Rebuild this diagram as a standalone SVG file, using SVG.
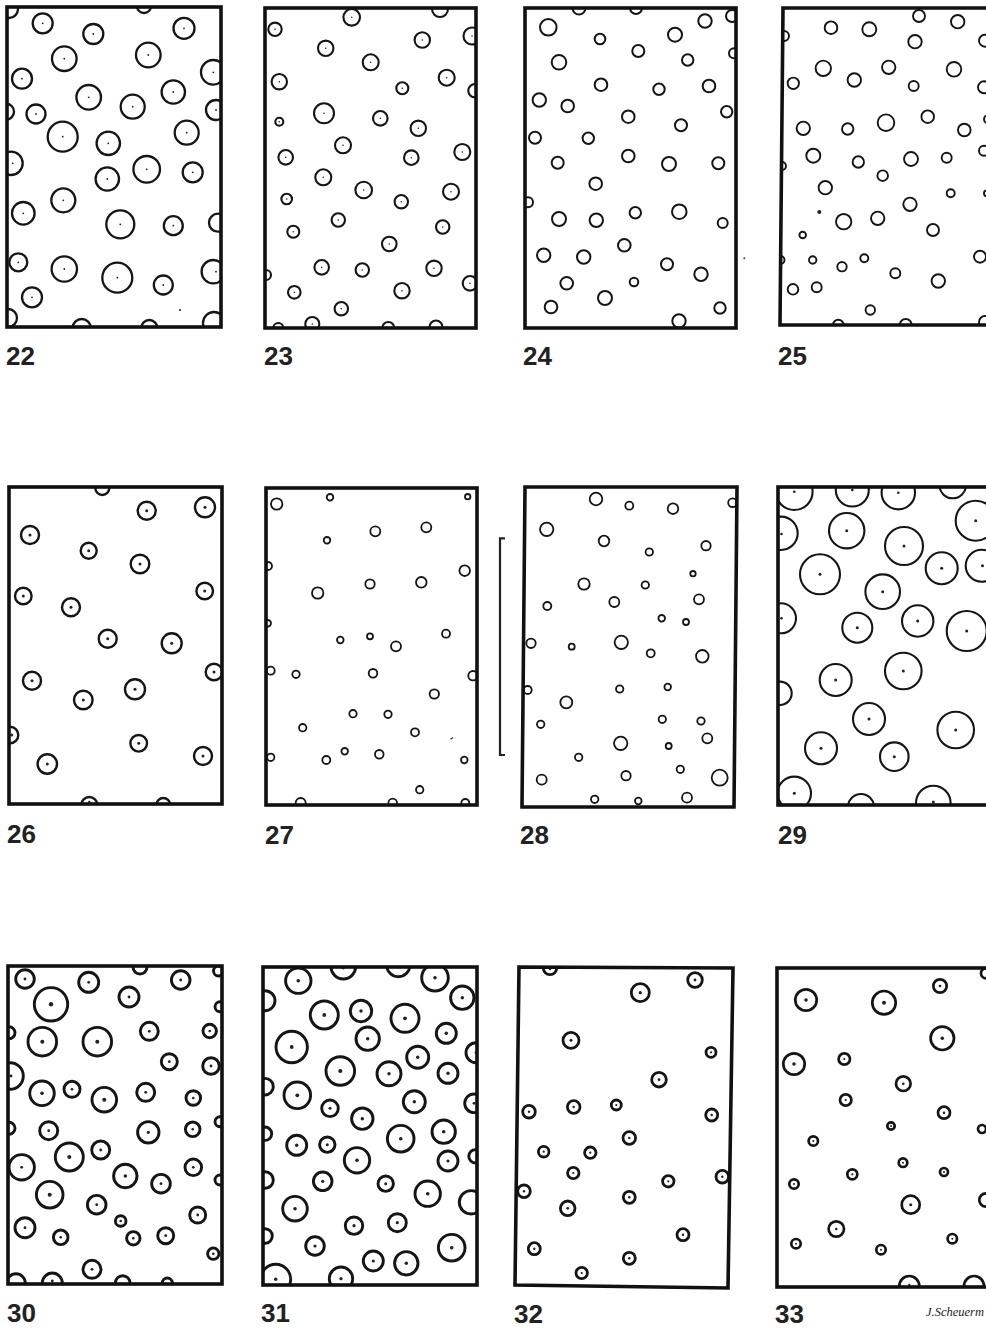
<svg xmlns="http://www.w3.org/2000/svg" width="986" height="1329" viewBox="0 0 986 1329">
<style>
.f{fill:none;stroke:#111;stroke-width:3.6}
.c circle{fill:none;stroke:#151515}
.d circle{fill:#222;stroke:none}
.lbl{font-family:"Liberation Sans",Arial,sans-serif;font-weight:bold;font-size:26px;fill:#222}
.sig{font-family:"Liberation Serif","Times New Roman",serif;font-style:italic;font-size:12.5px;fill:#222}
</style>
<defs>
<clipPath id="k22"><rect x="7" y="7" width="214" height="320"/></clipPath>
<clipPath id="k23"><rect x="265" y="8" width="211" height="320"/></clipPath>
<clipPath id="k24"><rect x="525" y="8" width="211" height="320"/></clipPath>
<clipPath id="k25"><polygon points="783,8 1000,8 1000,325 780,325"/></clipPath>
<clipPath id="k26"><rect x="9" y="487" width="213" height="317"/></clipPath>
<clipPath id="k27"><rect x="266" y="488" width="211" height="317"/></clipPath>
<clipPath id="k28"><polygon points="525,487 737,487 734,807 522,807"/></clipPath>
<clipPath id="k29"><rect x="778" y="487" width="222" height="318"/></clipPath>
<clipPath id="k30"><rect x="8" y="966" width="214" height="318"/></clipPath>
<clipPath id="k31"><rect x="263" y="967" width="214" height="318"/></clipPath>
<clipPath id="k32"><polygon points="519,967 733,968 728,1288 515,1285"/></clipPath>
<clipPath id="k33"><rect x="777" y="968" width="222" height="319"/></clipPath>
</defs>
<rect width="986" height="1329" fill="#fff"/>

<g id="panel-22">
<g clip-path="url(#k22)">
<g class="c" stroke-width="2.3">
<circle cx="9" cy="9" r="9"/><circle cx="42.7" cy="23.3" r="10"/><circle cx="93.3" cy="34" r="10"/><circle cx="144" cy="6" r="7"/><circle cx="184" cy="28.3" r="10.5"/>
<circle cx="64.3" cy="58.7" r="12.3"/><circle cx="148.3" cy="55" r="12.3"/><circle cx="213.3" cy="72.3" r="12.3"/><circle cx="22" cy="78.7" r="10"/><circle cx="88.7" cy="97.3" r="12.3"/>
<circle cx="173.3" cy="92" r="11.7"/><circle cx="132.7" cy="106.7" r="12"/><circle cx="6" cy="111.7" r="8"/><circle cx="36" cy="114" r="9.5"/><circle cx="216" cy="110" r="10"/>
<circle cx="62.7" cy="136.7" r="15"/><circle cx="108.3" cy="143.3" r="11.7"/><circle cx="186.7" cy="132.7" r="12"/><circle cx="11" cy="163.3" r="11.7"/><circle cx="146.7" cy="169.3" r="13.3"/>
<circle cx="107.3" cy="179" r="11.7"/><circle cx="192.7" cy="172.3" r="10"/><circle cx="63.3" cy="200.3" r="12"/><circle cx="23.3" cy="213.3" r="11.3"/><circle cx="120.3" cy="224.3" r="14"/>
<circle cx="173.3" cy="225.7" r="9.5"/><circle cx="218" cy="222.7" r="9"/><circle cx="18.3" cy="262.3" r="9"/><circle cx="64.3" cy="269" r="12.7"/><circle cx="117.3" cy="277.7" r="15"/>
<circle cx="213.3" cy="271.7" r="11.7"/><circle cx="32" cy="297.3" r="10"/><circle cx="163.3" cy="285" r="9.5"/><circle cx="8" cy="318" r="9"/><circle cx="81.7" cy="328" r="9"/>
<circle cx="149.3" cy="328" r="8"/><circle cx="214" cy="323" r="11"/>
</g>
<g class="d">
<circle cx="42.7" cy="23.3" r="0.9"/><circle cx="93.3" cy="34" r="0.9"/><circle cx="184" cy="28.3" r="0.9"/><circle cx="64.3" cy="58.7" r="0.9"/><circle cx="148.3" cy="55" r="0.9"/>
<circle cx="213.3" cy="72.3" r="0.9"/><circle cx="22" cy="78.7" r="0.9"/><circle cx="88.7" cy="97.3" r="0.9"/><circle cx="173.3" cy="92" r="0.9"/><circle cx="132.7" cy="106.7" r="0.9"/>
<circle cx="36" cy="114" r="0.9"/><circle cx="216" cy="110" r="0.9"/><circle cx="62.7" cy="136.7" r="0.9"/><circle cx="108.3" cy="143.3" r="0.9"/><circle cx="186.7" cy="132.7" r="0.9"/>
<circle cx="12.7" cy="163.3" r="0.9"/><circle cx="146.7" cy="169.3" r="0.9"/><circle cx="107.3" cy="179" r="0.9"/><circle cx="192.7" cy="172.3" r="0.9"/><circle cx="63.3" cy="200.3" r="0.9"/>
<circle cx="23.3" cy="213.3" r="0.9"/><circle cx="120.3" cy="224.3" r="0.9"/><circle cx="173.3" cy="225.7" r="0.9"/><circle cx="18.3" cy="262.3" r="0.9"/><circle cx="64.3" cy="269" r="0.9"/>
<circle cx="117.3" cy="277.7" r="0.9"/><circle cx="216" cy="271.7" r="0.9"/><circle cx="32" cy="297.3" r="0.9"/><circle cx="163.3" cy="285" r="0.9"/>
<circle cx="180" cy="310" r="1.1"/>
</g>
</g>
<rect class="f" x="7" y="7" width="214" height="320"/>
<text class="lbl" x="6" y="365">22</text>
</g>

<g id="panel-23">
<g clip-path="url(#k23)">
<g class="c" stroke-width="2.1">
<circle cx="275" cy="29.3" r="6.7"/><circle cx="351.7" cy="17.3" r="8.3"/><circle cx="440" cy="9" r="8"/><circle cx="472" cy="36" r="8.5"/><circle cx="325.7" cy="48.3" r="7.7"/>
<circle cx="422.3" cy="40" r="7.7"/><circle cx="370.7" cy="62.3" r="8"/><circle cx="279.3" cy="81.7" r="7.7"/><circle cx="446.7" cy="77.7" r="8"/><circle cx="402.3" cy="88.3" r="6"/>
<circle cx="475" cy="90.7" r="6.7"/><circle cx="279.3" cy="121.7" r="4"/><circle cx="324" cy="113.3" r="10"/><circle cx="380.3" cy="118.3" r="7.3"/><circle cx="418.3" cy="128.3" r="7.7"/>
<circle cx="343" cy="145.3" r="8"/><circle cx="285.7" cy="157.3" r="7.3"/><circle cx="411.3" cy="157.7" r="7.3"/><circle cx="462.3" cy="152" r="8"/><circle cx="323.3" cy="177.3" r="8"/>
<circle cx="363.7" cy="190" r="8.3"/><circle cx="286.7" cy="199" r="5.3"/><circle cx="401.3" cy="201.7" r="6.7"/><circle cx="451" cy="191.7" r="8"/><circle cx="338.3" cy="220" r="6.7"/>
<circle cx="293.3" cy="231.7" r="6"/><circle cx="442.7" cy="227" r="6.7"/><circle cx="389.3" cy="244" r="7.3"/><circle cx="321.7" cy="267.3" r="7.3"/><circle cx="362.3" cy="270" r="6.7"/>
<circle cx="434" cy="268.3" r="7.7"/><circle cx="266" cy="275" r="5"/><circle cx="470" cy="283.3" r="7.3"/><circle cx="294.3" cy="292.3" r="6.3"/><circle cx="402" cy="290.7" r="7.7"/>
<circle cx="341.3" cy="308.7" r="6.7"/><circle cx="278.3" cy="328" r="5"/><circle cx="312.3" cy="324" r="7"/><circle cx="388.3" cy="328" r="6"/><circle cx="436" cy="327" r="6.5"/>
</g>
<g class="d">
<circle cx="275" cy="29.3" r="0.8"/><circle cx="351.7" cy="17.3" r="0.8"/><circle cx="472" cy="36" r="0.8"/><circle cx="325.7" cy="48.3" r="0.8"/><circle cx="422.3" cy="40" r="0.8"/>
<circle cx="370.7" cy="62.3" r="0.8"/><circle cx="279.3" cy="81.7" r="0.8"/><circle cx="446.7" cy="77.7" r="0.8"/><circle cx="402.3" cy="88.3" r="0.8"/><circle cx="279.3" cy="121.7" r="0.8"/>
<circle cx="324" cy="113.3" r="0.8"/><circle cx="380.3" cy="118.3" r="0.8"/><circle cx="418.3" cy="128.3" r="0.8"/><circle cx="343" cy="145.3" r="0.8"/><circle cx="285.7" cy="157.3" r="0.8"/>
<circle cx="411.3" cy="157.7" r="0.8"/><circle cx="462.3" cy="152" r="0.8"/><circle cx="323.3" cy="177.3" r="0.8"/><circle cx="363.7" cy="190" r="0.8"/><circle cx="286.7" cy="199" r="0.8"/>
<circle cx="401.3" cy="201.7" r="0.8"/><circle cx="451" cy="191.7" r="0.8"/><circle cx="338.3" cy="220" r="0.8"/><circle cx="293.3" cy="231.7" r="0.8"/><circle cx="442.7" cy="227" r="0.8"/>
<circle cx="389.3" cy="244" r="0.8"/><circle cx="321.7" cy="267.3" r="0.8"/><circle cx="362.3" cy="270" r="0.8"/><circle cx="434" cy="268.3" r="0.8"/><circle cx="470" cy="283.3" r="0.8"/>
<circle cx="294.3" cy="292.3" r="0.8"/><circle cx="402" cy="290.7" r="0.8"/><circle cx="341.3" cy="308.7" r="0.8"/><circle cx="312.3" cy="324" r="0.8"/>
</g>
</g>
<rect class="f" x="265" y="8" width="211" height="320"/>
<text class="lbl" x="264" y="365">23</text>
</g>

<g id="panel-24">
<g clip-path="url(#k24)">
<g class="c" stroke-width="2">
<circle cx="579" cy="8" r="6.5"/><circle cx="636" cy="8" r="6"/><circle cx="548.3" cy="27.3" r="8.3"/><circle cx="600" cy="39" r="5.3"/><circle cx="675" cy="34.7" r="7"/>
<circle cx="705" cy="21" r="6.7"/><circle cx="732" cy="16" r="6"/><circle cx="638.3" cy="51" r="6"/><circle cx="559" cy="62.3" r="7.3"/><circle cx="687.7" cy="60" r="5.7"/>
<circle cx="734" cy="53.3" r="5"/><circle cx="601" cy="84.7" r="6.3"/><circle cx="659" cy="89.3" r="5.7"/><circle cx="709" cy="86" r="6.3"/><circle cx="539.3" cy="100" r="6.7"/>
<circle cx="567.7" cy="106" r="6.3"/><circle cx="628.3" cy="116.7" r="6.3"/><circle cx="681" cy="125.3" r="6"/><circle cx="726.7" cy="111.7" r="5.7"/><circle cx="535" cy="137.7" r="6"/>
<circle cx="588.3" cy="138.3" r="5.7"/><circle cx="628.3" cy="156" r="6.3"/><circle cx="557.7" cy="162.7" r="6"/><circle cx="669" cy="164" r="7"/><circle cx="718.3" cy="163.3" r="6"/>
<circle cx="595.7" cy="183.7" r="6.3"/><circle cx="528" cy="202.3" r="5"/><circle cx="559" cy="219" r="7"/><circle cx="596.3" cy="220.3" r="6.7"/><circle cx="635.3" cy="212.7" r="5.7"/>
<circle cx="679.3" cy="211.7" r="7.3"/><circle cx="722.7" cy="223" r="5"/><circle cx="624.3" cy="245.3" r="6.3"/><circle cx="543.7" cy="255.3" r="6.7"/><circle cx="583.7" cy="257" r="6.7"/>
<circle cx="667" cy="264.3" r="6"/><circle cx="701" cy="274.3" r="6.7"/><circle cx="566.7" cy="283.3" r="6.3"/><circle cx="634" cy="282" r="4.3"/><circle cx="605" cy="298" r="7"/>
<circle cx="551" cy="307" r="6.3"/><circle cx="720" cy="308" r="5.7"/><circle cx="679" cy="321" r="6.7"/>
</g>
</g>
<rect class="f" x="525" y="8" width="211" height="320"/>
<circle cx="744.3" cy="258.3" r="1" fill="#444"/>
<text class="lbl" x="523" y="365">24</text>
</g>

<g id="panel-25">
<g clip-path="url(#k25)">
<g class="c" stroke-width="1.9">
<circle cx="919" cy="16" r="6"/><circle cx="957.7" cy="21.7" r="6.7"/><circle cx="784" cy="36" r="5"/><circle cx="831" cy="27.7" r="6.3"/><circle cx="869.3" cy="29.3" r="7"/>
<circle cx="915" cy="41.7" r="6.7"/><circle cx="985" cy="40.7" r="6"/><circle cx="823.3" cy="68.3" r="7.7"/><circle cx="793.3" cy="83.3" r="5.7"/><circle cx="854.3" cy="80" r="6.7"/>
<circle cx="888.7" cy="67.3" r="6.7"/><circle cx="913.7" cy="86" r="5"/><circle cx="954" cy="69.3" r="7.3"/><circle cx="984" cy="87.3" r="6"/><circle cx="803.3" cy="128.3" r="6.7"/>
<circle cx="847.7" cy="129" r="5.7"/><circle cx="886" cy="122.7" r="8.3"/><circle cx="927.7" cy="116.7" r="6.3"/><circle cx="964.3" cy="130" r="6.3"/><circle cx="988" cy="119.3" r="4"/>
<circle cx="782" cy="166" r="4"/><circle cx="813.3" cy="155.7" r="7"/><circle cx="858.3" cy="162" r="5.7"/><circle cx="911" cy="159" r="7"/><circle cx="946.7" cy="157.7" r="5"/>
<circle cx="984" cy="150.7" r="5"/><circle cx="882.7" cy="175.7" r="5.3"/><circle cx="825.3" cy="187.7" r="6.7"/><circle cx="950.7" cy="193.3" r="4"/><circle cx="987" cy="193.3" r="3"/>
<circle cx="843.7" cy="221.7" r="7.7"/><circle cx="877.7" cy="218.3" r="6.7"/><circle cx="910" cy="204.3" r="6.7"/><circle cx="933" cy="230" r="6"/><circle cx="802.7" cy="235" r="3.3"/>
<circle cx="780.5" cy="260" r="4"/><circle cx="812.7" cy="260" r="3.7"/><circle cx="842" cy="266.7" r="4.7"/><circle cx="864.3" cy="258.3" r="4"/><circle cx="895.3" cy="273.3" r="5"/>
<circle cx="938.3" cy="281" r="6.7"/><circle cx="980" cy="256.7" r="6"/><circle cx="793" cy="289.3" r="5.3"/><circle cx="816.7" cy="287.3" r="5"/><circle cx="870.3" cy="310" r="4.7"/>
<circle cx="838.3" cy="325" r="5.3"/><circle cx="905.7" cy="325" r="6"/><circle cx="985" cy="322" r="6"/>
</g>
<circle cx="819.3" cy="212" r="2" fill="#222"/>
</g>
<polygon class="f" points="783,8 1000,8 1000,325 780,325" />
<text class="lbl" x="778" y="365">25</text>
</g>

<g id="panel-26">
<g clip-path="url(#k26)">
<g class="c" stroke-width="2.4">
<circle cx="102.3" cy="488" r="7"/><circle cx="146.7" cy="510.7" r="9"/><circle cx="205" cy="507.3" r="10"/><circle cx="30" cy="535" r="9"/><circle cx="88.7" cy="550.7" r="8"/>
<circle cx="140" cy="564" r="9.3"/><circle cx="23.3" cy="596" r="8.3"/><circle cx="204.7" cy="591" r="8.3"/><circle cx="71" cy="607.3" r="9"/><circle cx="107.7" cy="638.7" r="9"/>
<circle cx="171.7" cy="643.3" r="10"/><circle cx="214" cy="672" r="8.3"/><circle cx="32" cy="680.7" r="9"/><circle cx="83.3" cy="700" r="9.3"/><circle cx="135" cy="689.3" r="10"/>
<circle cx="10" cy="735" r="8.3"/><circle cx="138.7" cy="743.3" r="8.3"/><circle cx="203" cy="756" r="9"/><circle cx="47.3" cy="764" r="9.7"/><circle cx="89.3" cy="805" r="8"/>
<circle cx="163.3" cy="805" r="7"/>
</g>
<g class="d">
<circle cx="146.7" cy="510.7" r="1.5"/><circle cx="205" cy="507.3" r="1.5"/><circle cx="30" cy="535" r="1.5"/><circle cx="88.7" cy="550.7" r="1.5"/>
<circle cx="140" cy="564" r="1.5"/><circle cx="23.3" cy="596" r="1.5"/><circle cx="204.7" cy="591" r="1.5"/><circle cx="71" cy="607.3" r="1.5"/><circle cx="107.7" cy="638.7" r="1.5"/>
<circle cx="171.7" cy="643.3" r="1.5"/><circle cx="214" cy="672" r="1.5"/><circle cx="32" cy="680.7" r="1.5"/><circle cx="83.3" cy="700" r="1.5"/><circle cx="135" cy="689.3" r="1.5"/>
<circle cx="11.7" cy="735" r="1.5"/><circle cx="138.7" cy="743.3" r="1.5"/><circle cx="203" cy="756" r="1.5"/><circle cx="47.3" cy="764" r="1.5"/><circle cx="89.3" cy="802" r="1.3"/>
</g>
</g>
<rect class="f" x="9" y="487" width="213" height="317"/>
<text class="lbl" x="7" y="843">26</text>
</g>

<g id="panel-27">
<g clip-path="url(#k27)">
<g class="c" stroke-width="1.8">
<circle cx="276.7" cy="504" r="5.7"/><circle cx="330" cy="497.3" r="3.3"/><circle cx="467.7" cy="496.7" r="2.7"/><circle cx="375.3" cy="531.3" r="5"/><circle cx="426.3" cy="527.3" r="5"/>
<circle cx="327" cy="540.3" r="3.3"/><circle cx="268" cy="566" r="4"/><circle cx="464.7" cy="570.7" r="5.3"/><circle cx="317.7" cy="593" r="5.7"/><circle cx="370" cy="584" r="4.7"/>
<circle cx="421.3" cy="582.3" r="5.3"/><circle cx="267.7" cy="623.3" r="3.3"/><circle cx="340.3" cy="640" r="3.3"/><circle cx="370" cy="636.3" r="3"/><circle cx="396" cy="646.3" r="5"/>
<circle cx="446" cy="633.7" r="4"/><circle cx="270.7" cy="670.7" r="4"/><circle cx="296" cy="674.3" r="3.7"/><circle cx="373" cy="673.3" r="4.3"/><circle cx="473" cy="675.7" r="4.7"/>
<circle cx="434.3" cy="694" r="4.7"/><circle cx="353" cy="713.7" r="3.7"/><circle cx="388" cy="714.3" r="3.7"/><circle cx="302.7" cy="727.7" r="3.7"/><circle cx="415" cy="732.3" r="4"/>
<circle cx="270.7" cy="757.3" r="3.7"/><circle cx="326.3" cy="760" r="4"/><circle cx="344.7" cy="751.3" r="3.3"/><circle cx="379.3" cy="754.3" r="4.3"/><circle cx="464.3" cy="760" r="3.3"/>
<circle cx="419.7" cy="789.7" r="3.7"/><circle cx="300.7" cy="803" r="5"/><circle cx="392.7" cy="803" r="4.3"/><circle cx="465.3" cy="803" r="4"/>
</g>
<line x1="450.5" y1="739.3" x2="453" y2="737.5" stroke="#333" stroke-width="1.3"/>
</g>
<rect class="f" x="266" y="488" width="211" height="317"/>
<text class="lbl" x="265" y="844">27</text>
</g>

<g id="panel-28">
<polyline points="505,538.3 500,538.3 500,755 505,755" fill="none" stroke="#222" stroke-width="2.2"/>
<g clip-path="url(#k28)">
<g class="c" stroke-width="1.8">
<circle cx="596" cy="499" r="6.3"/><circle cx="629.3" cy="505.7" r="4"/><circle cx="673" cy="508.7" r="5.3"/><circle cx="732.5" cy="502.7" r="4.3"/><circle cx="546.7" cy="529.3" r="6.7"/>
<circle cx="604" cy="541" r="5.3"/><circle cx="649.3" cy="552" r="3.7"/><circle cx="706" cy="545.7" r="4.7"/><circle cx="693" cy="573.7" r="2.7"/><circle cx="584" cy="584" r="5.7"/>
<circle cx="645.3" cy="585" r="3.7"/><circle cx="547.3" cy="606" r="4"/><circle cx="614.3" cy="602" r="5"/><circle cx="699" cy="599.3" r="5"/><circle cx="661.7" cy="618.3" r="3.3"/>
<circle cx="686" cy="622" r="3"/><circle cx="531" cy="643.3" r="4.7"/><circle cx="571.7" cy="646.7" r="3"/><circle cx="621.3" cy="642.3" r="6.7"/><circle cx="650.7" cy="653.3" r="4"/>
<circle cx="702.3" cy="656.3" r="6.3"/><circle cx="527.7" cy="690" r="4"/><circle cx="619.7" cy="689" r="3.7"/><circle cx="667.7" cy="687" r="3.3"/><circle cx="566.3" cy="702.3" r="6"/>
<circle cx="540.7" cy="724.3" r="3.7"/><circle cx="662.3" cy="719.3" r="3.7"/><circle cx="701" cy="721" r="3.7"/><circle cx="620.7" cy="743.3" r="6.7"/><circle cx="668.7" cy="746" r="3"/>
<circle cx="707.3" cy="738.3" r="5"/><circle cx="578.7" cy="757.3" r="3.7"/><circle cx="541.7" cy="779.7" r="5"/><circle cx="626" cy="775.7" r="4.7"/><circle cx="680.3" cy="769.3" r="3.7"/>
<circle cx="719.7" cy="777.7" r="8"/><circle cx="594.7" cy="799.3" r="3.7"/><circle cx="638.3" cy="801" r="3.3"/><circle cx="687" cy="797.7" r="5"/>
</g>
</g>
<polygon class="f" points="525,487 737,487 734,807 522,807"/>
<text class="lbl" x="520" y="844">28</text>
</g>

<g id="panel-29">
<g clip-path="url(#k29)">
<g class="c" stroke-width="2.1">
<circle cx="794.3" cy="491.7" r="18.3"/><circle cx="852.3" cy="490" r="16.5"/><circle cx="898.3" cy="492.7" r="16.7"/><circle cx="952.7" cy="485" r="13.3"/><circle cx="781" cy="533.3" r="16.7"/>
<circle cx="846.7" cy="530.7" r="17.7"/><circle cx="904" cy="546" r="19"/><circle cx="975.7" cy="520.7" r="20"/><circle cx="820" cy="574.3" r="20"/><circle cx="941.7" cy="568.3" r="16"/>
<circle cx="981.7" cy="565.7" r="16"/><circle cx="882.7" cy="591.7" r="17.3"/><circle cx="781" cy="618.3" r="15"/><circle cx="857.3" cy="627.7" r="15"/><circle cx="917.7" cy="621" r="15.7"/>
<circle cx="966.7" cy="631" r="20"/><circle cx="903.3" cy="671" r="18.3"/><circle cx="835.7" cy="680" r="16"/><circle cx="780" cy="693.3" r="11.7"/><circle cx="869" cy="719" r="16"/>
<circle cx="955.7" cy="730" r="18.3"/><circle cx="821" cy="748.3" r="16"/><circle cx="894.3" cy="756.7" r="14.3"/><circle cx="794.3" cy="793.3" r="16.7"/><circle cx="861" cy="807" r="13"/>
<circle cx="933.3" cy="803" r="17.3"/>
</g>
<g class="d">
<circle cx="794.3" cy="491.7" r="1.3"/><circle cx="852.3" cy="490" r="1.3"/><circle cx="898.3" cy="492.7" r="1.3"/><circle cx="781.5" cy="534" r="1.3"/>
<circle cx="846.7" cy="530.7" r="1.5"/><circle cx="904" cy="546" r="1.5"/><circle cx="975.7" cy="520.7" r="1.5"/><circle cx="820" cy="574.3" r="1.5"/><circle cx="941.7" cy="568.3" r="1.5"/>
<circle cx="982.5" cy="565.7" r="1.5"/><circle cx="882.7" cy="591.7" r="1.5"/><circle cx="781.5" cy="618.3" r="1.3"/><circle cx="857.3" cy="627.7" r="1.5"/><circle cx="917.7" cy="621" r="1.5"/>
<circle cx="966.7" cy="631" r="1.5"/><circle cx="903.3" cy="671" r="1.5"/><circle cx="835.7" cy="680" r="1.5"/><circle cx="869" cy="719" r="1.5"/>
<circle cx="955.7" cy="730" r="1.5"/><circle cx="821" cy="748.3" r="1.5"/><circle cx="894.3" cy="756.7" r="1.5"/><circle cx="794.3" cy="793.3" r="1.5"/><circle cx="933.3" cy="802" r="1.5"/>
</g>
</g>
<rect class="f" x="778" y="487" width="222" height="318"/>
<text class="lbl" x="778" y="844">29</text>
</g>

<g id="panel-30">
<g clip-path="url(#k30)">
<g class="c" stroke-width="2.9">
<circle cx="25" cy="979" r="9.3"/><circle cx="88.7" cy="982.3" r="10"/><circle cx="140" cy="967" r="7"/><circle cx="180.7" cy="980" r="9.3"/><circle cx="218.5" cy="971" r="5"/>
<circle cx="51" cy="1004.3" r="16.7"/><circle cx="129" cy="997" r="10"/><circle cx="220" cy="1006.7" r="5"/><circle cx="9" cy="1032.7" r="6"/><circle cx="42.3" cy="1041.7" r="14.3"/>
<circle cx="97.3" cy="1041.7" r="14.3"/><circle cx="149.3" cy="1031.3" r="9"/><circle cx="209.7" cy="1031" r="6.7"/><circle cx="169.3" cy="1061.7" r="8"/><circle cx="211" cy="1066" r="8.3"/>
<circle cx="10" cy="1076" r="13.3"/><circle cx="42" cy="1093.3" r="12.3"/><circle cx="72" cy="1089.3" r="8"/><circle cx="104.3" cy="1099.7" r="12.3"/><circle cx="145.7" cy="1092.3" r="9"/>
<circle cx="193.3" cy="1098" r="7.3"/><circle cx="9" cy="1128.3" r="6"/><circle cx="48.7" cy="1130.7" r="9"/><circle cx="148.3" cy="1132.3" r="10.7"/><circle cx="192.7" cy="1129.3" r="7.3"/>
<circle cx="220" cy="1121.7" r="5"/><circle cx="69.3" cy="1157" r="14"/><circle cx="100.7" cy="1150" r="9"/><circle cx="21.7" cy="1167.3" r="12.7"/><circle cx="125.3" cy="1176" r="11.7"/>
<circle cx="161" cy="1183.7" r="9.3"/><circle cx="193.3" cy="1167.3" r="8.3"/><circle cx="220" cy="1180" r="5"/><circle cx="49.7" cy="1194.7" r="13.3"/><circle cx="96.7" cy="1204.7" r="9.3"/>
<circle cx="197.7" cy="1215" r="8"/><circle cx="25" cy="1227.7" r="10"/><circle cx="60.7" cy="1237.3" r="7.3"/><circle cx="120.7" cy="1221" r="5.3"/><circle cx="133.3" cy="1238.3" r="6.7"/>
<circle cx="165.7" cy="1235.7" r="8"/><circle cx="213.3" cy="1253.7" r="5.7"/><circle cx="92" cy="1269.3" r="9"/><circle cx="16" cy="1283" r="9.3"/><circle cx="52.3" cy="1283" r="10"/>
<circle cx="122.7" cy="1283" r="7.3"/><circle cx="167.3" cy="1283" r="5"/>
</g>
<g class="d">
<circle cx="25" cy="979" r="1.4"/><circle cx="88.7" cy="982.3" r="1.4"/><circle cx="180.7" cy="980" r="1.4"/><circle cx="51" cy="1004.3" r="2.2"/><circle cx="129" cy="997" r="1.4"/>
<circle cx="42.3" cy="1041.7" r="2"/><circle cx="97.3" cy="1041.7" r="2"/><circle cx="149.3" cy="1031.3" r="1.4"/><circle cx="209.7" cy="1031" r="1.3"/><circle cx="169.3" cy="1061.7" r="1.4"/>
<circle cx="211" cy="1066" r="1.4"/><circle cx="11" cy="1076" r="1.4"/><circle cx="42" cy="1093.3" r="1.8"/><circle cx="72" cy="1089.3" r="1.3"/><circle cx="104.3" cy="1099.7" r="2"/>
<circle cx="145.7" cy="1092.3" r="1.4"/><circle cx="193.3" cy="1098" r="1.3"/><circle cx="48.7" cy="1130.7" r="1.4"/><circle cx="148.3" cy="1132.3" r="1.6"/><circle cx="192.7" cy="1129.3" r="1.3"/>
<circle cx="69.3" cy="1157" r="2"/><circle cx="100.7" cy="1150" r="1.4"/><circle cx="21.7" cy="1167.3" r="1.4"/><circle cx="125.3" cy="1176" r="1.8"/><circle cx="161" cy="1183.7" r="1.4"/>
<circle cx="193.3" cy="1167.3" r="1.4"/><circle cx="49.7" cy="1194.7" r="2"/><circle cx="96.7" cy="1204.7" r="1.4"/><circle cx="197.7" cy="1215" r="1.4"/><circle cx="25" cy="1227.7" r="1.4"/>
<circle cx="60.7" cy="1237.3" r="1.3"/><circle cx="120.7" cy="1221" r="1.3"/><circle cx="133.3" cy="1238.3" r="1.3"/><circle cx="165.7" cy="1235.7" r="1.4"/><circle cx="213.3" cy="1253.7" r="1.3"/>
<circle cx="92" cy="1269.3" r="1.4"/><circle cx="52.3" cy="1281" r="1.4"/>
</g>
</g>
<rect class="f" x="8" y="966" width="214" height="318"/>
<text class="lbl" x="7" y="1322">30</text>
</g>

<g id="panel-31">
<g clip-path="url(#k31)">
<g class="c" stroke-width="2.9">
<circle cx="298.3" cy="980.7" r="12.7"/><circle cx="343.3" cy="966.7" r="12.3"/><circle cx="398.3" cy="965" r="11.7"/><circle cx="435" cy="977.7" r="13.3"/><circle cx="462.3" cy="997.7" r="11.7"/>
<circle cx="265" cy="1000.7" r="10"/><circle cx="324.3" cy="1015" r="14"/><circle cx="361" cy="1011" r="10.7"/><circle cx="405" cy="1018.3" r="14"/><circle cx="446.3" cy="1033.3" r="10"/>
<circle cx="367.7" cy="1038.7" r="11.7"/><circle cx="291.7" cy="1047" r="15.7"/><circle cx="417.7" cy="1057.3" r="11"/><circle cx="476" cy="1052.7" r="10"/><circle cx="340.3" cy="1071" r="14.3"/>
<circle cx="389" cy="1073.7" r="12"/><circle cx="448" cy="1073.3" r="10"/><circle cx="265" cy="1086.7" r="8.3"/><circle cx="297.3" cy="1095.3" r="13.3"/><circle cx="330" cy="1108.3" r="8.3"/>
<circle cx="362.3" cy="1118.7" r="10.7"/><circle cx="414.3" cy="1101.7" r="11"/><circle cx="474" cy="1103.3" r="9.3"/><circle cx="265" cy="1133.7" r="6.7"/><circle cx="296.7" cy="1145.3" r="10"/>
<circle cx="327.3" cy="1144.7" r="7.7"/><circle cx="400.7" cy="1138.7" r="13.3"/><circle cx="443.7" cy="1131.7" r="11.7"/><circle cx="357" cy="1160.3" r="12.7"/><circle cx="448" cy="1161" r="10"/>
<circle cx="475.5" cy="1156.3" r="6.7"/><circle cx="265" cy="1180" r="8.3"/><circle cx="322.7" cy="1181.3" r="9.3"/><circle cx="385.7" cy="1183.7" r="7.7"/><circle cx="427.7" cy="1193.7" r="12.7"/>
<circle cx="471" cy="1202.3" r="11.7"/><circle cx="295" cy="1208.7" r="12.3"/><circle cx="354" cy="1225.7" r="8.7"/><circle cx="397.3" cy="1222.7" r="9"/><circle cx="265" cy="1236" r="7.3"/>
<circle cx="315" cy="1246" r="9.3"/><circle cx="451.7" cy="1247.7" r="13.3"/><circle cx="373.3" cy="1261" r="10"/><circle cx="406.3" cy="1263.3" r="11.7"/><circle cx="275.7" cy="1279.3" r="15"/>
<circle cx="341" cy="1278.7" r="11.7"/>
</g>
<g class="d">
<circle cx="298.3" cy="980.7" r="1.8"/><circle cx="343.3" cy="968" r="1.4"/><circle cx="398.3" cy="967" r="1.4"/><circle cx="435" cy="977.7" r="1.8"/><circle cx="462.3" cy="997.7" r="1.7"/>
<circle cx="324.3" cy="1015" r="1.9"/><circle cx="361" cy="1011" r="1.7"/><circle cx="405" cy="1018.3" r="1.9"/><circle cx="446.3" cy="1033.3" r="1.7"/>
<circle cx="367.7" cy="1038.7" r="1.7"/><circle cx="291.7" cy="1047" r="1.9"/><circle cx="417.7" cy="1057.3" r="1.7"/><circle cx="476" cy="1052.7" r="1.4"/><circle cx="340.3" cy="1071" r="2.1"/>
<circle cx="389" cy="1073.7" r="1.7"/><circle cx="448" cy="1073.3" r="1.7"/><circle cx="297.3" cy="1095.3" r="1.9"/><circle cx="330" cy="1108.3" r="1.5"/>
<circle cx="362.3" cy="1118.7" r="1.7"/><circle cx="414.3" cy="1101.7" r="1.7"/><circle cx="474" cy="1103.3" r="1.4"/><circle cx="296.7" cy="1145.3" r="1.7"/>
<circle cx="327.3" cy="1144.7" r="1.5"/><circle cx="400.7" cy="1138.7" r="1.8"/><circle cx="443.7" cy="1131.7" r="1.8"/><circle cx="357" cy="1160.3" r="1.8"/><circle cx="448" cy="1161" r="1.6"/>
<circle cx="322.7" cy="1181.3" r="1.6"/><circle cx="385.7" cy="1183.7" r="1.5"/><circle cx="427.7" cy="1193.7" r="1.8"/>
<circle cx="295" cy="1208.7" r="1.8"/><circle cx="354" cy="1225.7" r="1.6"/><circle cx="397.3" cy="1222.7" r="1.6"/>
<circle cx="315" cy="1246" r="1.6"/><circle cx="451.7" cy="1247.7" r="1.8"/><circle cx="373.3" cy="1261" r="1.6"/><circle cx="406.3" cy="1263.3" r="1.7"/><circle cx="275.7" cy="1279.3" r="1.7"/>
<circle cx="341" cy="1278.7" r="1.6"/>
</g>
</g>
<rect class="f" x="263" y="967" width="214" height="318"/>
<text class="lbl" x="261" y="1322">31</text>
</g>

<g id="panel-32">
<g clip-path="url(#k32)">
<g class="c" stroke-width="2.8">
<circle cx="550" cy="968" r="6.7"/><circle cx="640.3" cy="992.7" r="9"/><circle cx="695" cy="980" r="7.3"/><circle cx="571" cy="1040.3" r="8"/><circle cx="711" cy="1052.3" r="5"/>
<circle cx="659" cy="1079.7" r="7.3"/><circle cx="529" cy="1111.7" r="6.3"/><circle cx="573.7" cy="1107" r="6.3"/><circle cx="616.3" cy="1105" r="5"/><circle cx="711.7" cy="1115" r="6"/>
<circle cx="629.3" cy="1138" r="6.3"/><circle cx="543.7" cy="1151.7" r="5.3"/><circle cx="590.3" cy="1152.7" r="5.7"/><circle cx="573.3" cy="1173" r="5.7"/><circle cx="668.3" cy="1181.3" r="5.7"/>
<circle cx="722.3" cy="1176.7" r="6.3"/><circle cx="524" cy="1191.3" r="6.3"/><circle cx="567.7" cy="1208.3" r="7.3"/><circle cx="629.3" cy="1197.3" r="6"/><circle cx="683" cy="1234.7" r="6"/>
<circle cx="534.3" cy="1248.7" r="6"/><circle cx="629.3" cy="1258.3" r="6"/><circle cx="581.7" cy="1273" r="5.7"/>
</g>
<g class="d">
<circle cx="550" cy="969" r="1.2"/><circle cx="640.3" cy="992.7" r="1.6"/><circle cx="695" cy="980" r="1.4"/><circle cx="571" cy="1040.3" r="1.5"/><circle cx="711" cy="1052.3" r="1.1"/>
<circle cx="659" cy="1079.7" r="1.4"/><circle cx="529" cy="1111.7" r="1.2"/><circle cx="573.7" cy="1107" r="1.2"/><circle cx="616.3" cy="1105" r="1.1"/><circle cx="711.7" cy="1115" r="1.2"/>
<circle cx="629.3" cy="1138" r="1.2"/><circle cx="543.7" cy="1151.7" r="1.1"/><circle cx="590.3" cy="1152.7" r="1.1"/><circle cx="573.3" cy="1173" r="1.1"/><circle cx="668.3" cy="1181.3" r="1.1"/>
<circle cx="722.3" cy="1176.7" r="1.2"/><circle cx="524" cy="1191.3" r="1.2"/><circle cx="567.7" cy="1208.3" r="1.4"/><circle cx="629.3" cy="1197.3" r="1.2"/><circle cx="683" cy="1234.7" r="1.2"/>
<circle cx="534.3" cy="1248.7" r="1.2"/><circle cx="629.3" cy="1258.3" r="1.2"/><circle cx="581.7" cy="1273" r="1.1"/>
</g>
</g>
<polygon class="f" points="519,967 733,968 728,1288 515,1285"/>
<text class="lbl" x="514" y="1323">32</text>
</g>

<g id="panel-33">
<g clip-path="url(#k33)">
<g class="c" stroke-width="2.7">
<circle cx="806" cy="1000" r="10.7"/><circle cx="884" cy="1002.7" r="11.7"/><circle cx="940" cy="986" r="6.7"/><circle cx="986" cy="973.3" r="5"/><circle cx="942.3" cy="1038.3" r="11.7"/>
<circle cx="794" cy="1064" r="10.7"/><circle cx="844.3" cy="1059" r="5.7"/><circle cx="903.3" cy="1083.7" r="7.3"/><circle cx="845.7" cy="1100" r="5.7"/><circle cx="944" cy="1112.7" r="6"/>
<circle cx="891" cy="1126" r="3.7"/><circle cx="982" cy="1129" r="4"/><circle cx="813.3" cy="1141" r="4.7"/><circle cx="903" cy="1162.7" r="4.3"/><circle cx="944" cy="1172" r="4"/>
<circle cx="852.3" cy="1174.3" r="5"/><circle cx="794" cy="1184" r="4.7"/><circle cx="910.7" cy="1204.7" r="9"/><circle cx="986" cy="1200" r="6.7"/><circle cx="836.3" cy="1229" r="7.7"/>
<circle cx="952.3" cy="1238.7" r="4.7"/><circle cx="796" cy="1243.7" r="4.7"/><circle cx="881" cy="1249.7" r="4.7"/><circle cx="909.3" cy="1286" r="10"/><circle cx="974" cy="1286" r="10"/>
</g>
<g class="d">
<circle cx="806" cy="1000" r="1.8"/><circle cx="884" cy="1002.7" r="2"/><circle cx="940" cy="986" r="1.3"/><circle cx="942.3" cy="1038.3" r="1.8"/>
<circle cx="794" cy="1064" r="1.8"/><circle cx="844.3" cy="1059" r="1.1"/><circle cx="903.3" cy="1083.7" r="1.3"/><circle cx="845.7" cy="1100" r="1.1"/><circle cx="944" cy="1112.7" r="1.2"/>
<circle cx="891" cy="1126" r="1"/><circle cx="813.3" cy="1141" r="1"/><circle cx="903" cy="1162.7" r="1"/><circle cx="944" cy="1172" r="1"/>
<circle cx="852.3" cy="1174.3" r="1.1"/><circle cx="794" cy="1184" r="1"/><circle cx="910.7" cy="1204.7" r="1.5"/><circle cx="836.3" cy="1229" r="1.3"/>
<circle cx="952.3" cy="1238.7" r="1"/><circle cx="796" cy="1243.7" r="1"/><circle cx="881" cy="1249.7" r="1"/><circle cx="909.3" cy="1285" r="1.2"/>
</g>
</g>
<rect class="f" x="777" y="968" width="222" height="319"/>
<text class="lbl" x="775" y="1323">33</text>
<text class="sig" x="926" y="1316">J.Scheuerm</text>
</g>
</svg>
